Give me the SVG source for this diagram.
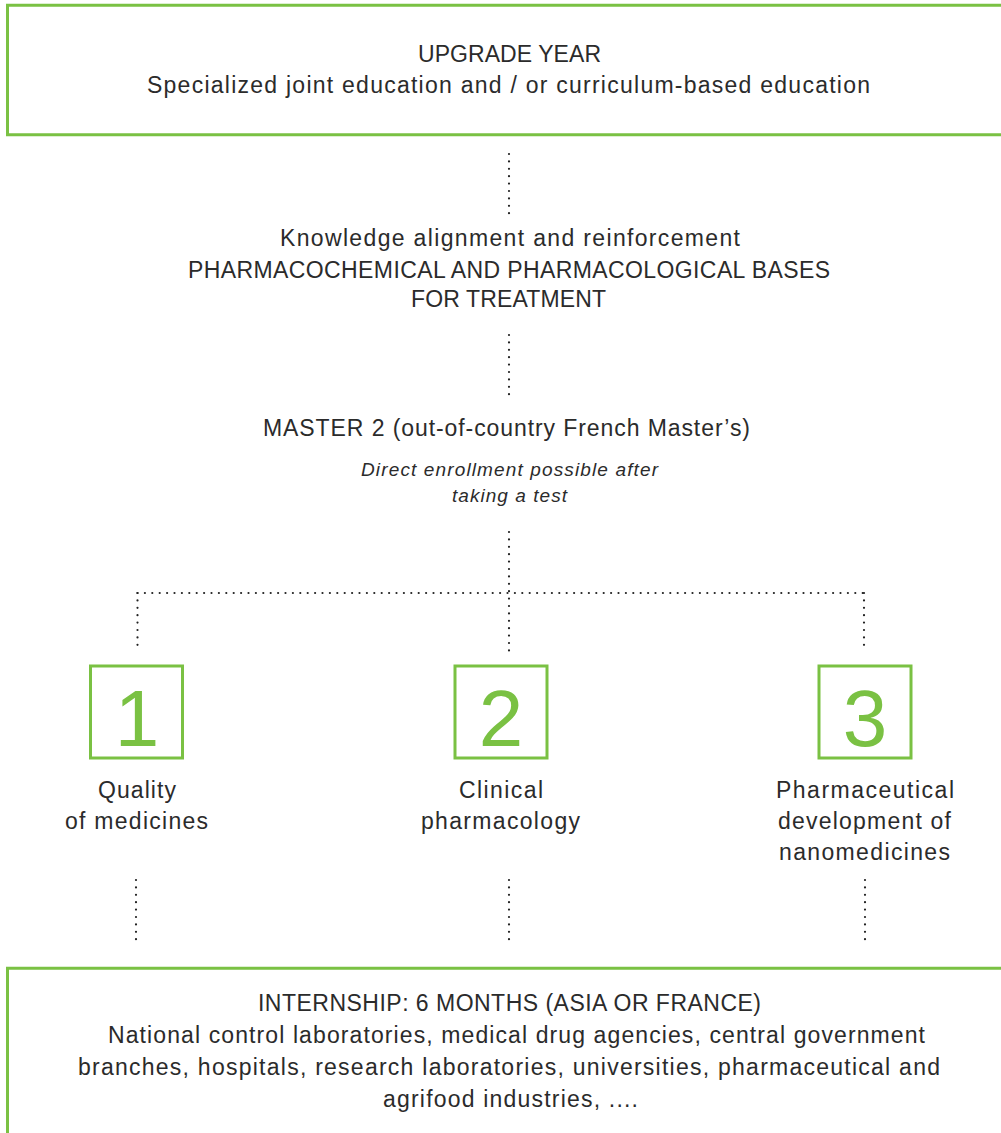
<svg xmlns="http://www.w3.org/2000/svg" width="1001" height="1133" viewBox="0 0 1001 1133">
<style>
.box{fill:none;stroke:#7ac143;stroke-width:3}
.t{font-family:"Liberation Sans",Arial,sans-serif;font-size:23px;fill:#2b2b2b;text-anchor:middle}
.i{font-family:"Liberation Sans",Arial,sans-serif;font-size:19px;font-style:italic;fill:#2b2b2b;text-anchor:middle}
.num{font-family:"Liberation Sans",Arial,sans-serif;font-size:80px;fill:#7ac143;text-anchor:middle}
.dot{fill:none;stroke:#222;stroke-width:2.2;stroke-linecap:round;stroke-dasharray:0 7.4}
</style>
<rect width="1001" height="1133" fill="#fff"/>
<g id="upgrade-year">
<path class="box" d="M1010 5.3 H7.5 V134.7 H1010"/>
<text class="t" x="509.5" y="62" textLength="183" lengthAdjust="spacing">UPGRADE YEAR</text>
<text class="t" x="508.5" y="93" textLength="723" lengthAdjust="spacing">Specialized joint education and / or curriculum-based education</text>
</g>
<g id="knowledge">
<text class="t" x="510" y="246" textLength="460" lengthAdjust="spacing">Knowledge alignment and reinforcement</text>
<text class="t" x="509" y="278" textLength="642" lengthAdjust="spacing">PHARMACOCHEMICAL AND PHARMACOLOGICAL BASES</text>
<text class="t" x="508.5" y="307" textLength="195" lengthAdjust="spacing">FOR TREATMENT</text>
</g>
<g id="master2">
<text class="t" x="506.5" y="436" textLength="487" lengthAdjust="spacing">MASTER 2 (out-of-country French Master’s)</text>
<text class="i" x="509.5" y="476" textLength="297" lengthAdjust="spacing">Direct enrollment possible after</text>
<text class="i" x="509.5" y="502" textLength="115" lengthAdjust="spacing">taking a test</text>
</g>
<g id="option1">
<rect class="box" x="90.5" y="666" width="92" height="92"/>
<text class="num" x="137" y="746">1</text>
<text class="t" x="137" y="798" textLength="78" lengthAdjust="spacing">Quality</text>
<text class="t" x="136.5" y="829" textLength="143" lengthAdjust="spacing">of medicines</text>
</g>
<g id="option2">
<rect class="box" x="455" y="666" width="92" height="92"/>
<text class="num" x="501" y="746">2</text>
<text class="t" x="501" y="798" textLength="84" lengthAdjust="spacing">Clinical</text>
<text class="t" x="500.5" y="829" textLength="159" lengthAdjust="spacing">pharmacology</text>
</g>
<g id="option3">
<rect class="box" x="819" y="666" width="92" height="92"/>
<text class="num" x="865" y="746">3</text>
<text class="t" x="865" y="798" textLength="178" lengthAdjust="spacing">Pharmaceutical</text>
<text class="t" x="864.5" y="829" textLength="173" lengthAdjust="spacing">development of</text>
<text class="t" x="864.5" y="860" textLength="171" lengthAdjust="spacing">nanomedicines</text>
</g>
<g id="internship">
<path class="box" d="M1010 968.3 H7.5 V1140"/>
<text class="t" x="509.5" y="1011" textLength="503" lengthAdjust="spacing">INTERNSHIP: 6 MONTHS (ASIA OR FRANCE)</text>
<text class="t" x="516.5" y="1043" textLength="817" lengthAdjust="spacing">National control laboratories, medical drug agencies, central government</text>
<text class="t" x="509" y="1075" textLength="862" lengthAdjust="spacing">branches, hospitals, research laboratories, universities, pharmaceutical and</text>
<text class="t" x="510.5" y="1107" textLength="255" lengthAdjust="spacing">agrifood industries, ....</text>
</g>
<g id="connectors">
<path class="dot" d="M509 154 V214"/>
<path class="dot" d="M509 335 V395"/>
<path class="dot" d="M509 532 V651"/>
<path class="dot" d="M137.5 593 H864"/>
<path class="dot" d="M137.5 593 V651"/>
<path class="dot" d="M864 593 V651"/>
<path class="dot" d="M136 880 V940"/>
<path class="dot" d="M509 880 V940"/>
<path class="dot" d="M865 880 V940"/>
</g>
</svg>
